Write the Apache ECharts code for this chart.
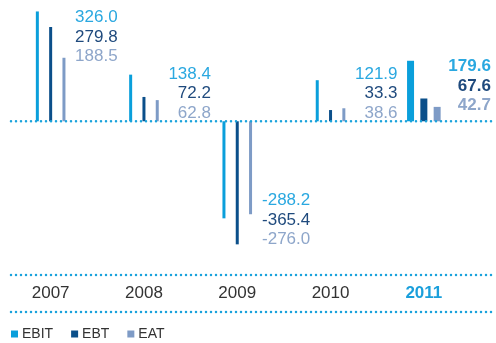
<!DOCTYPE html>
<html>
<head>
<meta charset="utf-8">
<script src="https://cdn.jsdelivr.net/npm/echarts@6/dist/echarts.min.js"></script>
<style>
  html, body { margin: 0; padding: 0; background: #fff; }
  #chart { width: 496px; height: 343px; }
</style>
</head>
<body>
<div id="chart"></div>
<script>
// Earnings by year (EBIT, EBT, EAT)
var years = ['2007', '2008', '2009', '2010', '2011'];
var ebit = [326.0, 138.4, -288.2, 121.9, 179.6];
var ebt  = [279.8, 72.2, -365.4, 33.3, 67.6];
var eat  = [188.5, 62.8, -276.0, 38.6, 42.7];
var seriesNames = ['EBIT', 'EBT', 'EAT'];

var barColors   = ['#0a9fdb', '#0b4f8a', '#7e9bc6'];
var labelColors = ['#2aa8e0', '#1f4a7d', '#8ea6ca'];
var FONT = 'Liberation Sans, Arial, sans-serif';
var lastIdx = years.length - 1;

var chart = echarts.init(document.getElementById('chart'), null, { renderer: 'canvas' });

function makeSeries(k, values) {
  return {
    name: seriesNames[k],
    type: 'custom',
    itemStyle: { color: barColors[k] },
    data: values.map(function (v, i) { return [i, v, ebit[i]]; }),
    renderItem: function (params, api) {
      var i = api.value(0);
      var v = api.value(1);
      var lead = api.value(2);
      var center = api.coord([i, 0])[0];
      var zeroY = api.coord([i, 0])[1];
      var endY = api.coord([i, v])[1];
      var hl = i === lastIdx;
      var w = hl ? 7 : 3;
      var cx = center + (k - 1) * 13.3;
      var rect = {
        type: 'rect',
        shape: { x: cx - w / 2, y: Math.min(zeroY, endY), width: w, height: Math.abs(endY - zeroY) },
        style: { fill: barColors[k] }
      };
      // the three value labels form a stacked block beside each group
      var topY, rightX;
      if (lead >= 0) {
        topY = Math.min(api.coord([i, lead])[1] + 6, api.coord([i, 140])[1]);
        rightX = center + 67;
      } else {
        topY = api.coord([i, lead])[1] - 18;
        rightX = center + 73;
      }
      var text = {
        type: 'text',
        style: {
          x: rightX,
          y: topY + k * 19.5,
          text: v.toFixed(1),
          fill: labelColors[k],
          font: (hl ? 'bold ' : '') + '17px ' + FONT,
          textAlign: 'right',
          textVerticalAlign: 'middle'
        }
      };
      return { type: 'group', children: [rect, text] };
    }
  };
}

chart.setOption({
  animation: false,
  grid: { left: 4, right: 25.5, top: 0, height: 256 },
  legend: {
    left: 6,
    top: 322,
    icon: 'rect',
    itemWidth: 7,
    itemHeight: 7,
    itemGap: 18,
    textStyle: { fontFamily: FONT, fontSize: 14, color: '#333', padding: [0, 0, 0, -1] },
    data: seriesNames
  },
  xAxis: {
    type: 'category',
    data: years,
    axisLine: { show: false, onZero: false },
    axisTick: { show: false },
    splitLine: { show: false },
    axisLabel: {
      margin: 29,
      formatter: function (val, idx) {
        return idx === lastIdx ? '{hl|' + val + '}' : '{n|' + val + '}';
      },
      rich: {
        n: { fontFamily: FONT, fontSize: 17, color: '#333' },
        hl: { fontFamily: FONT, fontSize: 17, fontWeight: 'bold', color: '#1a9fdb' }
      }
    }
  },
  yAxis: {
    type: 'value',
    min: -400,
    max: 360,
    show: false,
    splitLine: { show: false }
  },
  series: [makeSeries(0, ebit), makeSeries(1, ebt), makeSeries(2, eat)]
});

// dotted rules: the zero baseline plus the two rules framing the year row
var zeroY = chart.convertToPixel({ yAxisIndex: 0 }, 0);
function dottedRule(y) {
  return {
    type: 'line',
    shape: { x1: 11, y1: y, x2: 496, y2: y },
    style: { stroke: '#1aa3dc', lineWidth: 2.5, lineDash: [0, 5], lineCap: 'round' },
    z: 10
  };
}
chart.setOption({
  graphic: [dottedRule(zeroY), dottedRule(275), dottedRule(312)]
});
</script>
</body>
</html>
